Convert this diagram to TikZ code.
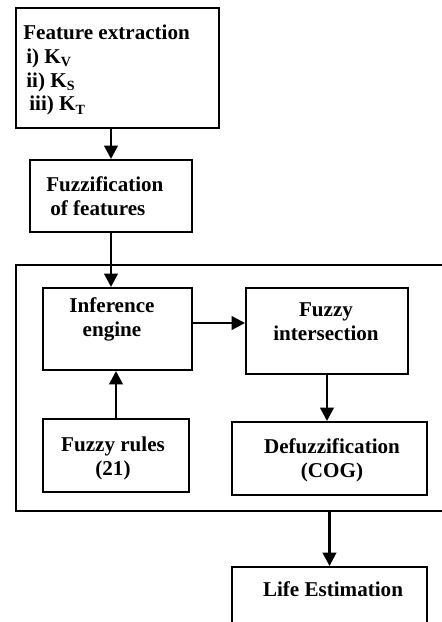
\documentclass[tikz,border=0pt]{standalone}
\usepackage{fontspec}
\setmainfont{Liberation Serif}
\usetikzlibrary{arrows.meta, positioning}
\newcommand{\ksub}[1]{K\raisebox{-0.35ex}{\fontsize{8}{8}\selectfont #1}}

\begin{document}
\begin{tikzpicture}[x=0.02cm, y=-0.02cm]
    \tikzset{
        blk/.style = {draw, line width=1.1pt, inner sep=0pt},
        txt/.style = {inner sep=0pt, align=center, font=\fontsize{12}{13.6}\selectfont\bfseries},
        arr/.style = {line width=1.5pt, -{Triangle[width=0.27cm, length=0.27cm]}}
    }
    \useasboundingbox (0,0) rectangle (441,622);
        \node[blk, minimum width=4.06cm, minimum height=2.4cm] (FE) at (117.5,68) {};
        \node[txt, align=left, anchor=west] (tFE) at (23,70) {Feature extraction\\\hspace*{0.06cm}i) \ksub{V}\\\hspace*{0.06cm}ii) \ksub{S}\\\hspace*{0.12cm}iii) \ksub{T}};
        \node[blk, minimum width=3.24cm, minimum height=1.44cm] (FZ) at (111,196) {};
        \node[txt, align=left, anchor=west] (tFZ) at (46,196) {Fuzzification\\\hspace*{0.08cm}of features};
    \begin{scope}
        \node[blk, minimum width=8.68cm, minimum height=4.92cm] (IS) at (233,388) {};
        \node[blk, minimum width=2.98cm, minimum height=1.64cm] (IE) at (117.5,329) {};
        \node[txt] (tIE) at (112,319.5) {Inference\\engine};
        \node[blk, minimum width=3.24cm, minimum height=1.72cm] (FI) at (327,331) {};
        \node[txt] (tFI) at (326,322) {Fuzzy\\intersection};
        \node[blk, minimum width=2.92cm, minimum height=1.46cm] (FR) at (116,455.5) {};
        \node[txt] (tFR) at (113,458) {Fuzzy rules\\(21)};
        \node[blk, minimum width=3.9cm, minimum height=1.46cm] (DF) at (329.5,458.5) {};
        \node[txt] (tDF) at (332,460) {Defuzzification\\(COG)};
    \end{scope}
        \node[blk, minimum width=3.9cm, minimum height=1.46cm] (LE) at (329.5,603.5) {};
        \node[txt] (tLE) at (333,589) {Life Estimation};
    \draw[arr] (FZ.north |- FE.south) -- (FZ.north);
    \draw[arr] (FZ.south) -- (FZ.south |- IE.north);
    \draw[arr] ([yshift=0.12cm]IE.east) -- ([yshift=0.12cm]IE.east -| FI.west);
    \draw[arr] (FR.north) -- (FR.north |- IE.south);
    \draw[arr] (FI.south) -- (FI.south |- DF.north);
    \draw[arr] (LE.north |- IS.south) -- (LE.north);
\end{tikzpicture}
\end{document}
